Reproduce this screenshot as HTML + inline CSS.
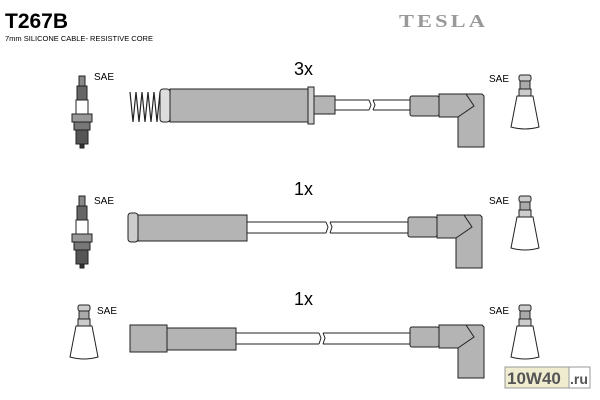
<!DOCTYPE html>
<html><head><meta charset="utf-8"><style>
html,body{margin:0;padding:0;background:#fff;}
svg{display:block;font-family:"Liberation Sans",sans-serif;}
</style></head><body>
<svg width="600" height="400" viewBox="0 0 600 400" xmlns="http://www.w3.org/2000/svg">
<defs>
<g id="boot" stroke="#222" stroke-width="1">
  <rect x="0" y="0" width="29" height="20" rx="2" fill="#b4b4b4"/>
  <path d="M29 -2 L72 -2 L74 0 L74 51 L48 51 L48 21 L29 21 Z" fill="#b4b4b4"/>
  <path d="M56 -2 L64 10 L48 21" fill="none"/>
</g>
<g id="term" stroke="#222" stroke-width="1">
  <rect x="-6" y="0" width="12" height="6" rx="2" fill="#ccc"/>
  <rect x="-5" y="6" width="10" height="8" fill="#aaa"/>
  <rect x="-6" y="14" width="12" height="7" fill="#ccc"/>
  <path d="M-8 21 L8 21 L14 52 Q0 56 -14 52 Z" fill="#fff"/>
</g>
<g id="plug" stroke="#222" stroke-width="1">
  <rect x="-3" y="0" width="6" height="10" fill="#888"/>
  <rect x="-5" y="10" width="10" height="14" fill="#666"/>
  <rect x="-6" y="24" width="12" height="14" fill="#fff"/>
  <rect x="-10" y="38" width="20" height="8" fill="#999"/>
  <rect x="-8" y="46" width="16" height="8" fill="#777"/>
  <rect x="-6" y="54" width="12" height="14" fill="#555"/>
  <rect x="-2" y="68" width="4" height="4" fill="#333"/>
</g>
</defs>

<text x="5" y="28" font-size="21" font-weight="bold" fill="#000">T267B</text>
<text x="5" y="41" font-size="7.5" fill="#000">7mm SILICONE CABLE- RESISTIVE CORE</text>
<text x="399" y="27" font-size="18" font-weight="bold" font-family="Liberation Serif,serif" fill="#999" letter-spacing="2.5" textLength="89" lengthAdjust="spacingAndGlyphs">TESLA</text>

<!-- Row 1 -->
<use href="#plug" x="82" y="76"/>
<text x="94" y="80" font-size="10">SAE</text>
<text x="294" y="75" font-size="18">3x</text>
<path d="M130 92 L133 122 L136 92 L139 122 L142 92 L145 122 L148 92 L151 122 L154 92 L157 122 L160 92" fill="none" stroke="#222" stroke-width="1.2"/>
<rect x="160" y="89" width="10" height="33" rx="3" fill="#ddd" stroke="#222"/>
<rect x="170" y="89" width="138" height="33" fill="#b4b4b4" stroke="#222"/>
<rect x="308" y="87" width="6" height="37" fill="#ccc" stroke="#222"/>
<rect x="314" y="96" width="21" height="18" fill="#b4b4b4" stroke="#222"/>
<line x1="335" y1="100" x2="410" y2="100" stroke="#222"/><line x1="335" y1="110" x2="410" y2="110" stroke="#222"/>
<rect x="369" y="99" width="4" height="12" fill="#fff"/>
<path d="M369 100 L371 105 L369 110 M373 100 L375 105 L373 110" fill="none" stroke="#222"/>
<use href="#boot" x="410" y="96"/>
<text x="489" y="82" font-size="10">SAE</text>
<use href="#term" x="525" y="75"/>

<!-- Row 2 -->
<use href="#plug" x="82" y="196"/>
<text x="94" y="204" font-size="10">SAE</text>
<text x="294" y="195" font-size="18">1x</text>
<rect x="128" y="213" width="10" height="29" rx="3" fill="#ccc" stroke="#222"/>
<rect x="138" y="215" width="109" height="26" fill="#b4b4b4" stroke="#222"/>
<line x1="247" y1="222" x2="408" y2="222" stroke="#222"/><line x1="247" y1="233" x2="408" y2="233" stroke="#222"/>
<rect x="326" y="221" width="4" height="13" fill="#fff"/>
<path d="M326 222 L328 227 L326 233 M330 222 L332 227 L330 233" fill="none" stroke="#222"/>
<use href="#boot" x="408" y="217"/>
<text x="489" y="204" font-size="10">SAE</text>
<use href="#term" x="525" y="196"/>

<!-- Row 3 -->
<use href="#term" x="84" y="305"/>
<text x="97" y="314" font-size="10">SAE</text>
<text x="294" y="305" font-size="18">1x</text>
<rect x="130" y="325" width="37" height="27" fill="#b4b4b4" stroke="#222"/>
<rect x="167" y="328" width="69" height="22" fill="#b4b4b4" stroke="#222"/>
<line x1="236" y1="333" x2="410" y2="333" stroke="#222"/><line x1="236" y1="344" x2="410" y2="344" stroke="#222"/>
<rect x="319" y="332" width="4" height="13" fill="#fff"/>
<path d="M319 333 L321 338 L319 344 M323 333 L325 338 L323 344" fill="none" stroke="#222"/>
<use href="#boot" x="410" y="327"/>
<text x="489" y="314" font-size="10">SAE</text>
<use href="#term" x="525" y="305"/>

<!-- logo -->
<rect x="505" y="367" width="64" height="21" fill="#f0ecd0" stroke="#999"/>
<rect x="569" y="367" width="21" height="21" fill="#fff" stroke="#999"/>
<text x="507" y="384" font-size="17" font-weight="bold" fill="#555">10W40</text>
<text x="570" y="384" font-size="14" font-weight="bold" fill="#555">.ru</text>
</svg>
</body></html>
